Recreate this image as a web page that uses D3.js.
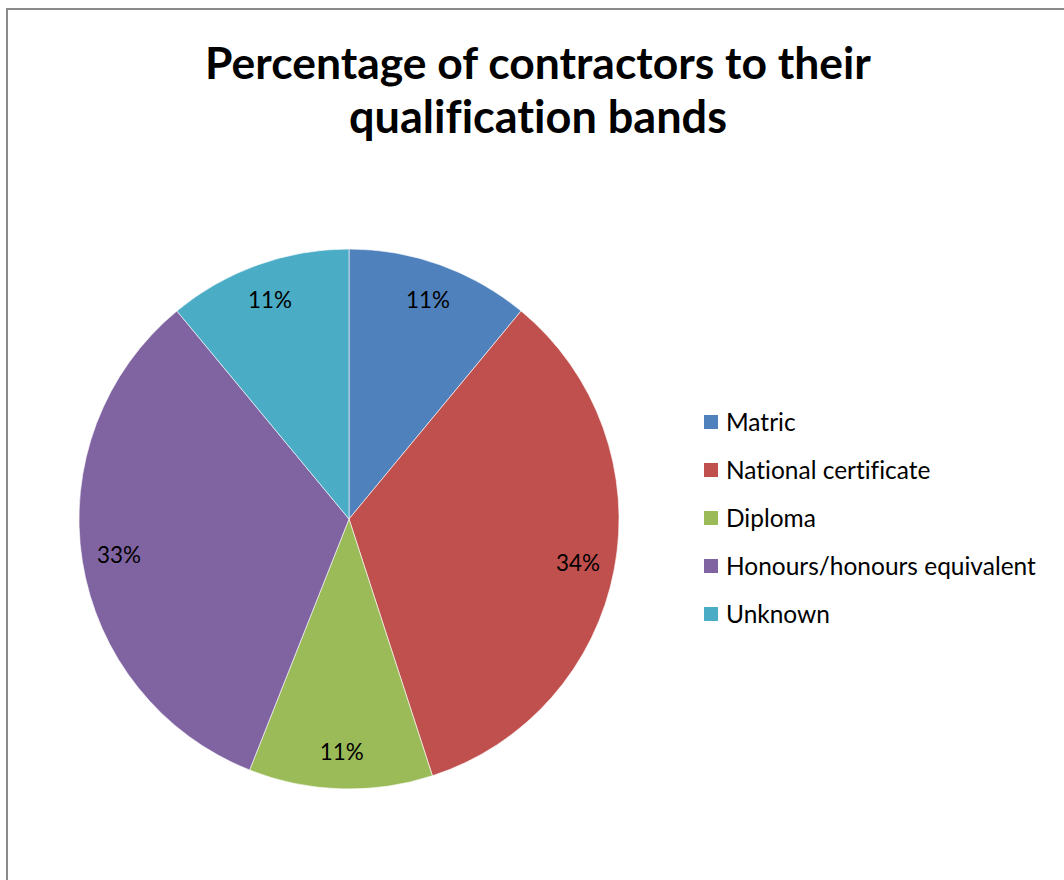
<!DOCTYPE html>
<html>
<head>
<meta charset="utf-8">
<script src="https://cdn.jsdelivr.net/npm/d3@7"></script>
<style>
  html, body { margin: 0; padding: 0; background: #fff; }
  svg { display: block; }
  text { font-family: Lato, "Open Sans", "DejaVu Sans", sans-serif; font-variant-ligatures: none; }
</style>
</head>
<body>
<script>
// Chart data
const titleLines = ["Percentage of contractors to their", "qualification bands"];
const categories = ["Matric", "National certificate", "Diploma", "Honours/honours equivalent", "Unknown"];
const percentages = [11, 34, 11, 33, 11];
const colors = ["#4F81BD", "#C0504D", "#9BBB59", "#8064A2", "#4BACC6"];

const width = 1064, height = 880;
const svg = d3.select("body").append("svg")
  .attr("width", width).attr("height", height);

// Chart frame
svg.append("rect")
  .attr("x", 7).attr("y", 9)
  .attr("width", width + 10).attr("height", height + 10)
  .attr("fill", "#fff")
  .attr("stroke", "#8a8a8a").attr("stroke-width", 2);

// Fit a text element's font size so its rendered width matches a target
function fitWidth(sel, target) {
  const node = sel.node();
  const fs = parseFloat(sel.attr("font-size"));
  const w = node.getComputedTextLength();
  sel.attr("font-size", (fs * target / w).toFixed(2));
}

// Title
const titleWidths = [666, 378];
const titleY = [79, 133];
titleLines.forEach((t, i) => {
  const el = svg.append("text")
    .attr("x", 538).attr("y", titleY[i])
    .attr("text-anchor", "middle")
    .attr("font-weight", "bold")
    .attr("font-size", 40)
    .attr("fill", "#000")
    .text(t);
  fitWidth(el, titleWidths[i]);
});

// Pie
const cx = 349, cy = 519, R = 270, labelR = 233;
const pie = d3.pie().sort(null).value(d => d.value);
const arcs = pie(categories.map((c, i) => ({ name: c, value: percentages[i], color: colors[i] })));
const arc = d3.arc().innerRadius(0).outerRadius(R);
const labelArc = d3.arc().innerRadius(labelR).outerRadius(labelR);

const g = svg.append("g").attr("transform", `translate(${cx},${cy})`);
g.selectAll("path.slice").data(arcs).join("path")
  .attr("class", "slice")
  .attr("d", arc)
  .attr("fill", d => d.data.color)
  .attr("stroke", "#ffffff")
  .attr("stroke-opacity", 0.6)
  .attr("stroke-width", 1);

const pctLabels = g.selectAll("text.pct").data(arcs).join("text")
  .attr("class", "pct")
  .attr("transform", d => `translate(${labelArc.centroid(d)})`)
  .attr("text-anchor", "middle")
  .attr("dy", "0.35em")
  .attr("font-size", 20)
  .attr("fill", "#000")
  .text(d => d.data.value + "%");
// Size the slice labels so "11%" spans about 44px
const w11 = pctLabels.filter(d => d.data.value === 11).node().getComputedTextLength();
pctLabels.attr("font-size", (20 * 44 / w11).toFixed(2));

// Legend
const legendX = 704, legendY0 = 422, legendStep = 48;
const lg = svg.append("g");
const items = lg.selectAll("g").data(categories).join("g")
  .attr("transform", (d, i) => `translate(${legendX},${legendY0 + i * legendStep})`);
items.append("rect")
  .attr("x", 0).attr("y", -7)
  .attr("width", 14).attr("height", 14)
  .attr("fill", (d, i) => colors[i]);
const legendTexts = items.append("text")
  .attr("x", 22).attr("dy", "0.35em")
  .attr("font-size", 22)
  .attr("fill", "#000")
  .text(d => d);
// Scale legend font so the longest entry spans its measured width
const longest = legendTexts.filter(d => d === "Honours/honours equivalent");
const lw = longest.node().getComputedTextLength();
legendTexts.attr("font-size", (22 * 310 / lw).toFixed(2));
</script>
</body>
</html>
